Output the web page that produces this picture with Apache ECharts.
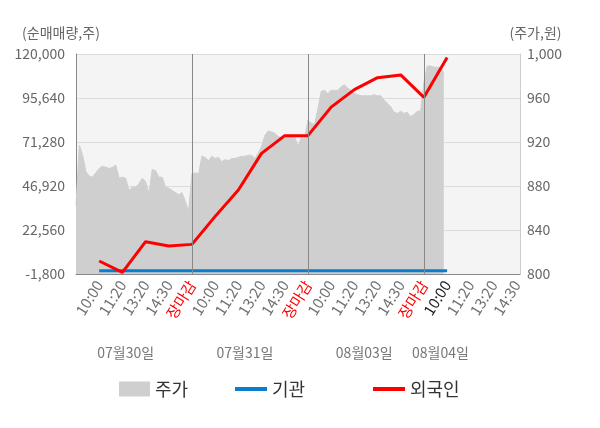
<!DOCTYPE html>
<html>
<head>
<meta charset="utf-8">
<script src="https://cdn.jsdelivr.net/npm/echarts@6/dist/echarts.min.js"></script>
<style>
  html, body { margin: 0; padding: 0; background: #fff; }
  #chart { width: 600px; height: 428px; }
</style>
</head>
<body>
<div id="chart"></div>
<script>
const FONT = "'Noto Sans CJK KR', 'Noto Sans', sans-serif";

// x axis tick labels, one per slot
const timeLabels = [
  "10:00", "11:20", "13:20", "14:30", "장마감",
  "10:00", "11:20", "13:20", "14:30", "장마감",
  "10:00", "11:20", "13:20", "14:30", "장마감",
  "10:00", "11:20", "13:20", "14:30",
];
const dateLabels = ["07월30일", "07월31일", "08월03일", "08월04일"];
const dateSlots = [15, 51, 87, 110];

// price (right axis), fine steps through the session
const priceDay1 = [862, 917, 908, 893, 889, 888, 892, 896, 898, 897, 896, 897, 899, 887, 888, 887, 876, 879,
  879, 882, 887, 884, 873, 895, 894, 888, 888, 879, 878, 876, 874, 872, 874, 866, 857];
const priceDay2 = [891, 892, 891, 907, 906, 903, 907, 905, 906, 902, 904, 903, 905, 905, 906, 907, 907, 908,
  908, 905, 910, 916, 926, 930, 929, 928, 925, 924, 926, 925, 925, 925, 916, 924, 923];
const priceDay3 = [940, 937, 936, 950, 966, 967, 964, 967, 967, 967, 970, 972, 969, 967, 964, 963, 962, 962,
  962, 962, 963, 962, 962, 958, 955, 952, 947, 946, 948, 946, 947, 943, 945, 948, 948];
const priceDay4 = [974, 989, 989, 988, 988, 988, 983];

// cumulative net buying (left axis), one value per tick label
const institution = [0, 0, 0, 0, 0, 0, 0, 0, 0, 0, 0, 0, 0, 0, 0, 0];
const foreigner = [5400, -860, 16100, 13700, 14600, 30100, 44700, 65000, 74800, 74800,
  90600, 100300, 106900, 108400, 96000, 118000];

const stepsPerSlot = 7;
const stepsPerDay = 35;
const categoryCount = 135;

const categories = [];
const dateCategories = [];
for (let i = 0; i < categoryCount; i++) {
  categories.push("");
  dateCategories.push("");
}
timeLabels.forEach((t, k) => { categories[(k + 1) * stepsPerSlot] = t; });
dateLabels.forEach((d, k) => { dateCategories[dateSlots[k]] = d; });

const price = [].concat(priceDay1, priceDay2, priceDay3, priceDay4);

function toSlots(values) {
  const out = new Array(categoryCount).fill(null);
  values.forEach((v, k) => { out[(k + 1) * stepsPerSlot] = v; });
  return out;
}

function labelColor(value, index) {
  if (value === "장마감") return "#ff0000";
  if (index === 16 * stepsPerSlot) return "#222";
  return "#707070";
}

const chart = echarts.init(document.getElementById("chart"));

const legendBase = {
  top: 375,
  icon: "rect",
  textStyle: { fontSize: 18, color: "#333", fontFamily: FONT },
  selectedMode: false,
};

chart.setOption({
  animation: false,
  textStyle: { fontFamily: FONT },
  grid: {
    left: 76, right: 80, top: 54, bottom: 154,
    show: true, backgroundColor: "#f4f4f4", borderWidth: 0,
  },
  legend: [
    Object.assign({}, legendBase, { left: 114, data: ["주가"], itemWidth: 31, itemHeight: 15 }),
    Object.assign({}, legendBase, { left: 230, data: ["기관"], itemWidth: 32, itemHeight: 4 }),
    Object.assign({}, legendBase, { left: 368, data: ["외국인"], itemWidth: 32, itemHeight: 4 }),
  ],
  xAxis: [
    {
      type: "category",
      data: categories,
      boundaryGap: false,
      axisLine: { onZero: false, lineStyle: { color: "#888" } },
      axisTick: { show: false },
      axisLabel: {
        interval: 0, rotate: 58, margin: 8, fontSize: 15,
        fontFamily: FONT, color: labelColor,
      },
      splitLine: { show: false },
    },
    {
      type: "category",
      data: dateCategories,
      boundaryGap: false,
      position: "bottom",
      offset: 64,
      axisLine: { show: false },
      axisTick: { show: false },
      splitLine: { show: false },
      axisLabel: { interval: 0, fontSize: 14, color: "#777", fontFamily: FONT },
    },
  ],
  yAxis: [
    {
      type: "value",
      position: "left",
      min: -1800,
      max: 120000,
      interval: 24360,
      name: "(순매매량,주)",
      nameGap: 14,
      nameTextStyle: { fontSize: 14, color: "#666", fontFamily: FONT, padding: [0, 30, 0, 0] },
      axisLine: { show: true, lineStyle: { color: "#888" } },
      axisTick: { show: false },
      axisLabel: {
        fontSize: 14, color: "#666", margin: 11, fontFamily: FONT,
        formatter: (v) => v.toLocaleString("en-US"),
      },
      splitLine: { lineStyle: { color: "#ddd" } },
    },
    {
      type: "value",
      position: "right",
      min: 800,
      max: 1000,
      interval: 40,
      name: "(주가,원)",
      nameGap: 14,
      nameTextStyle: { fontSize: 14, color: "#666", fontFamily: FONT, padding: [0, 0, 0, 31] },
      axisLine: { show: true, lineStyle: { color: "#ccc" } },
      axisTick: { show: false },
      axisLabel: {
        fontSize: 14, color: "#666", margin: 7, fontFamily: FONT,
        formatter: (v) => v.toLocaleString("en-US"),
      },
      splitLine: { show: false },
    },
  ],
  series: [
    {
      name: "주가",
      type: "line",
      yAxisIndex: 1,
      data: price,
      symbol: "none",
      color: "#cfcfcf",
      lineStyle: { width: 1, color: "#cfcfcf" },
      areaStyle: { color: "#cfcfcf", opacity: 1 },
      markLine: {
        silent: true,
        symbol: "none",
        label: { show: false },
        lineStyle: { color: "#888", width: 1, type: "solid" },
        data: [
          { xAxis: stepsPerDay },
          { xAxis: stepsPerDay * 2 },
          { xAxis: stepsPerDay * 3 },
          { yAxis: 0, lineStyle: { color: "#999" } },
        ],
      },
      z: 1,
    },
    {
      name: "기관",
      type: "line",
      data: toSlots(institution),
      connectNulls: true,
      symbol: "none",
      color: "#0a7dcc",
      lineStyle: { width: 3, color: "#0a7dcc" },
      z: 2,
    },
    {
      name: "외국인",
      type: "line",
      data: toSlots(foreigner),
      connectNulls: true,
      symbol: "none",
      color: "#ff0000",
      lineStyle: { width: 3, color: "#ff0000" },
      z: 3,
    },
  ],
});
</script>
</body>
</html>
